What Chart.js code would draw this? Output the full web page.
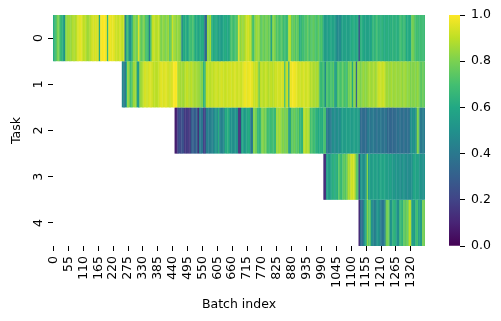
<!DOCTYPE html>
<html>
<head>
<meta charset="utf-8">
<script src="https://cdn.jsdelivr.net/npm/chart.js@4"></script>
<style>
body { margin: 0; background: #fff; }
canvas { position: absolute; top: 0; }
#heat { left: 0; }
#bar { left: 440px; }
</style>
</head>
<body>
<canvas id="heat" width="501" height="321"></canvas>
<canvas id="bar" width="61" height="321"></canvas>
<script>
// one column = 5 batches, 275 columns in total
var batchesPerBin = 5;
var numBins = 275;
var tickEvery = 11;
var tasks = [0, 1, 2, 3, 4];
var colorbarTicks = [0, 0.2, 0.4, 0.6, 0.8, 1];

// first column where each task has data
var taskStart = [0, 51, 90, 200, 226];

var task0 = [
  .62,.66,.72,.8,.8,.68,.65,.62,.5,.8,.84,.86,.85,.84,.88,.88,.87,.9,.94,.95,.96,.95,.9,.91,.89,.85,.86,.88,
  .92,.94,.93,.95,.93,.94,.6,.99,.99,1,.99,.98,.65,.97,.98,.96,.97,.95,.92,.93,.91,.94,.92,.9,.93,.42,.65,.68,
  .52,.5,.6,.8,.82,.78,.8,.95,.8,.75,.78,.82,.72,.7,.68,.42,.7,.9,.92,.9,.88,.9,.91,.82,.8,.84,.82,.8,.83,.85,
  .72,.8,.92,.84,.86,.82,.85,.83,.8,.45,.62,.6,.64,.58,.62,.7,.68,.72,.66,.6,.62,.58,.62,.6,.62,.6,.32,.36,
  .85,.82,.86,.65,.6,.62,.58,.62,.55,.56,.54,.58,.6,.62,.6,.58,.62,.7,.72,.68,.7,.72,.75,.95,
  .82,.86,.84,.86,.9,.92,.94,.9,.88,.72,.7,.82,.86,.84,.85,.76,.74,.8,.76,.78,.8,.76,.78,.56,.8,.82,.78,
  .72,.74,.7,.72,.74,.68,.7,.66,.68,.88,.9,.76,.74,.78,.72,.76,.74,.62,.64,.7,.68,.72,.72,.76,.7,.74,.72,.76,
  .74,.7,.72,.76,.7,.72,.68,.56,.54,.56,.55,.58,.6,.57,.58,.56,.5,.46,.48,.47,.55,.57,.56,.58,.56,.55,.57,
  .6,.62,.61,.6,.62,.6,.22,.64,.62,.6,.57,.58,.56,.58,.57,.59,.66,.64,.66,.7,.64,.66,.62,.65,.62,.6,.63,.62,.61,
  .64,.62,.65,.63,.64,.62,.63,.68,.7,.66,.68,.67,.6,.62,.6,.61,.8,.78,.74,.68,.7,.67,.68,.69,.68,.68
];
var task1 = [
  .45,.46,.38,.62,.86,.8,.7,.72,.85,.86,.84,.56,.54,.84,.86,.88,.93,.94,.92,.93,.95,.94,.93,.9,.91,.89,.9,.92,
  .95,.96,.94,.95,.96,.94,.93,.92,.94,.95,1,.99,1,.87,.88,.86,.87,.85,.88,.9,.91,.89,.88,.9,.88,.86,.87,.86,
  .85,.84,.8,.82,.64,.66,.9,.91,.9,.89,.91,.9,.92,.92,.93,.91,.92,.94,.93,.92,.91,.93,.92,.93,.94,.92,.93,.95,
  .93,.92,.94,.93,.92,.94,.97,.98,.96,.97,.98,.97,.96,.92,.91,.93,.9,.76,.9,.91,.89,.9,.92,.9,.88,.9,.91,.89,.9,
  .93,.92,.94,.93,.92,.94,.93,.7,.9,.92,.62,.98,.97,.99,.98,.97,.96,.93,.94,.92,.93,.95,.92,.93,.94,.92,
  .88,.9,.87,.88,.86,.88,.85,.68,.66,.7,.67,.48,.72,.7,.68,.72,.7,.74,.55,.56,.72,.74,.7,.72,.76,.7,.72,.66,
  .8,.78,.82,.6,.8,.82,.32,.82,.84,.8,.82,.85,.83,.82,.84,.86,.87,.85,.86,.88,.85,.87,.92,.93,.92,.91,.93,.9,
  .85,.86,.84,.85,.87,.84,.85,.86,.84,.85,.84,.86,.83,.85,.86,.84,.82,.84,.8,.82,.81,.83,.8,.84,.82,.76,.74,.78,.75
];
var task2 = [
  .08,.1,.2,.25,.22,.26,.24,.17,.16,.18,.15,.17,.3,.32,.28,.3,.33,.12,.42,.38,.4,.2,.18,.42,.44,.4,.42,.45,.43,
  .5,.52,.48,.62,.45,.42,.46,.44,.62,.6,.64,.58,.5,.52,.48,.5,.53,.5,.12,.14,.55,.6,.52,.56,.58,.62,.6,.38,.42,
  .82,.8,.78,.66,.64,.68,.8,.82,.78,.8,.68,.7,.66,.68,.7,.67,.66,.86,.84,.87,.85,.8,.82,.78,.8,.81,.55,.57,
  .76,.74,.78,.75,.72,.76,.65,.66,.64,.88,.9,.87,.89,.86,.7,.72,.68,.7,.62,.64,.6,.62,.63,.61,.72,.7,.4,.38,.42,.4,
  .48,.5,.46,.48,.5,.47,.49,.55,.56,.54,.55,.57,.55,.56,.54,.55,.56,.57,.55,.56,.55,.35,.34,.36,.35,.33,
  .4,.42,.38,.4,.41,.39,.38,.36,.39,.38,.4,.37,.38,.36,.39,.33,.35,.32,.34,.33,.35,.34,
  .36,.38,.35,.37,.36,.34,.38,.36,.35,.37,.5,.48,.52,.5,.49,.82,.78,.42,.4,.43,.41
];
var task3 = [
  .13,.15,.55,.58,.54,.56,.62,.64,.6,.65,.62,.76,.68,.66,.74,.76,.73,.78,.88,.86,.94,.92,.95,.86,.75,.72,.22,
  .5,.52,.48,.5,.53,.82,.55,.57,.54,.56,.58,.55,.57,.54,.58,.6,.57,.59,.58,.55,.56,.54,.57,.55,
  .52,.54,.5,.53,.51,.5,.48,.52,.49,.5,.48,.47,.49,.48,.5,.58,.6,.56,.58,.57,.5,.52,.49,.51
];
var task4 = [
  .1,.36,.34,.42,.55,.58,.82,.74,.76,.5,.48,.42,.44,.5,.52,.48,.42,.38,.4,.44,.78,.8,.76,.5,.52,
  .66,.64,.62,.5,.48,.66,.68,.64,.76,.74,.78,.75,.9,.88,.55,.57,.53,.68,.7,.55,.56,.54,.8,.78
];
var taskValues = [task0, task1, task2, task3, task4];

// viridis stops for the colour scale
var viridis = ['#440154','#482475','#414487','#355f8d','#2a788e','#21918c','#22a884','#44bf70','#7ad151','#bddf26','#fde725'];

function hexToRgb(h) {
  return [parseInt(h.slice(1,3),16), parseInt(h.slice(3,5),16), parseInt(h.slice(5,7),16)];
}
function colorFor(v) {
  var p = Math.min(Math.max(v, 0), 1) * (viridis.length - 1);
  var i = Math.min(Math.floor(p), viridis.length - 2);
  var a = hexToRgb(viridis[i]), b = hexToRgb(viridis[i + 1]), f = p - i;
  return 'rgb(' + a.map(function(c, n) { return Math.round(c + (b[n] - c) * f); }).join(',') + ')';
}

var labels = [];
for (var i = 0; i < numBins; i++) labels.push(String(i * batchesPerBin));

var datasets = tasks.map(function(t) {
  var data = [], colors = [];
  for (var b = 0; b < numBins; b++) {
    var v = taskValues[t][b - taskStart[t]];
    data.push(v === undefined ? null : [t, t + 1]);
    colors.push(v === undefined ? 'rgba(0,0,0,0)' : colorFor(v));
  }
  return {
    data: data,
    backgroundColor: colors,
    borderWidth: 0,
    barPercentage: 1.3,
    categoryPercentage: 1,
    grouped: false
  };
});

var font = { family: '"DejaVu Sans"', size: 12.5 };

new Chart(document.getElementById('heat').getContext('2d'), {
  type: 'bar',
  data: { labels: labels, datasets: datasets },
  options: {
    responsive: false,
    animation: false,
    layout: { padding: { left: 0, top: 15, right: 76, bottom: 0 } },
    plugins: { legend: { display: false }, tooltip: { enabled: false } },
    scales: {
      x: {
        border: { display: false },
        grid: { offset: false, drawOnChartArea: false, tickLength: 5, tickColor: '#000', tickWidth: 1 },
        ticks: {
          autoSkip: false, minRotation: 90, maxRotation: 90, padding: 5, color: '#000', font: font,
          callback: function(val) { return this.getLabelForValue(val); }
        },
        title: { display: true, text: 'Batch index', color: '#000', font: font, padding: { top: 0, bottom: 9 } },
        afterBuildTicks: function(scale) {
          scale.ticks = scale.ticks.filter(function(t) { return t.value % tickEvery === 0; });
        },
        afterFit: function(scale) { scale.height = 75; }
      },
      y: {
        type: 'linear', min: 0, max: 5, reverse: true,
        border: { display: false },
        grid: { offset: false, drawOnChartArea: false, tickLength: 5, tickColor: '#000', tickWidth: 1 },
        ticks: {
          minRotation: 90, maxRotation: 90, crossAlign: 'center', padding: 5, color: '#000', font: font,
          callback: function(val) { return String(val - 0.5); }
        },
        title: { display: true, text: 'Task', color: '#000', font: font, padding: { top: 9, bottom: 0 } },
        afterBuildTicks: function(scale) {
          scale.ticks = tasks.map(function(t) { return { value: t + 0.5 }; });
        },
        afterFit: function(scale) { scale.width = 53; }
      }
    }
  }
});

new Chart(document.getElementById('bar').getContext('2d'), {
  type: 'bar',
  data: {
    labels: ['scale'],
    datasets: [{
      data: [[0, 1]],
      borderWidth: 0,
      barPercentage: 1,
      categoryPercentage: 1,
      backgroundColor: function(ctx) {
        var area = ctx.chart.chartArea;
        if (!area) return viridis[5];
        var g = ctx.chart.ctx.createLinearGradient(0, area.bottom, 0, area.top);
        viridis.forEach(function(c, n) { g.addColorStop(n / (viridis.length - 1), c); });
        return g;
      }
    }]
  },
  options: {
    responsive: false,
    animation: false,
    layout: { padding: { left: 9, top: 15, right: 0, bottom: 75 } },
    plugins: { legend: { display: false }, tooltip: { enabled: false } },
    scales: {
      x: { display: false },
      y: {
        position: 'right', min: 0, max: 1,
        border: { display: false },
        grid: { drawOnChartArea: false, tickLength: 5, tickColor: '#000', tickWidth: 1 },
        ticks: {
          padding: 6, color: '#000', font: font,
          callback: function(val) { return val.toFixed(1); }
        },
        afterBuildTicks: function(scale) {
          scale.ticks = colorbarTicks.map(function(v) { return { value: v }; });
        },
        afterFit: function(scale) { scale.width = 41; }
      }
    }
  }
});
</script>
</body>
</html>
